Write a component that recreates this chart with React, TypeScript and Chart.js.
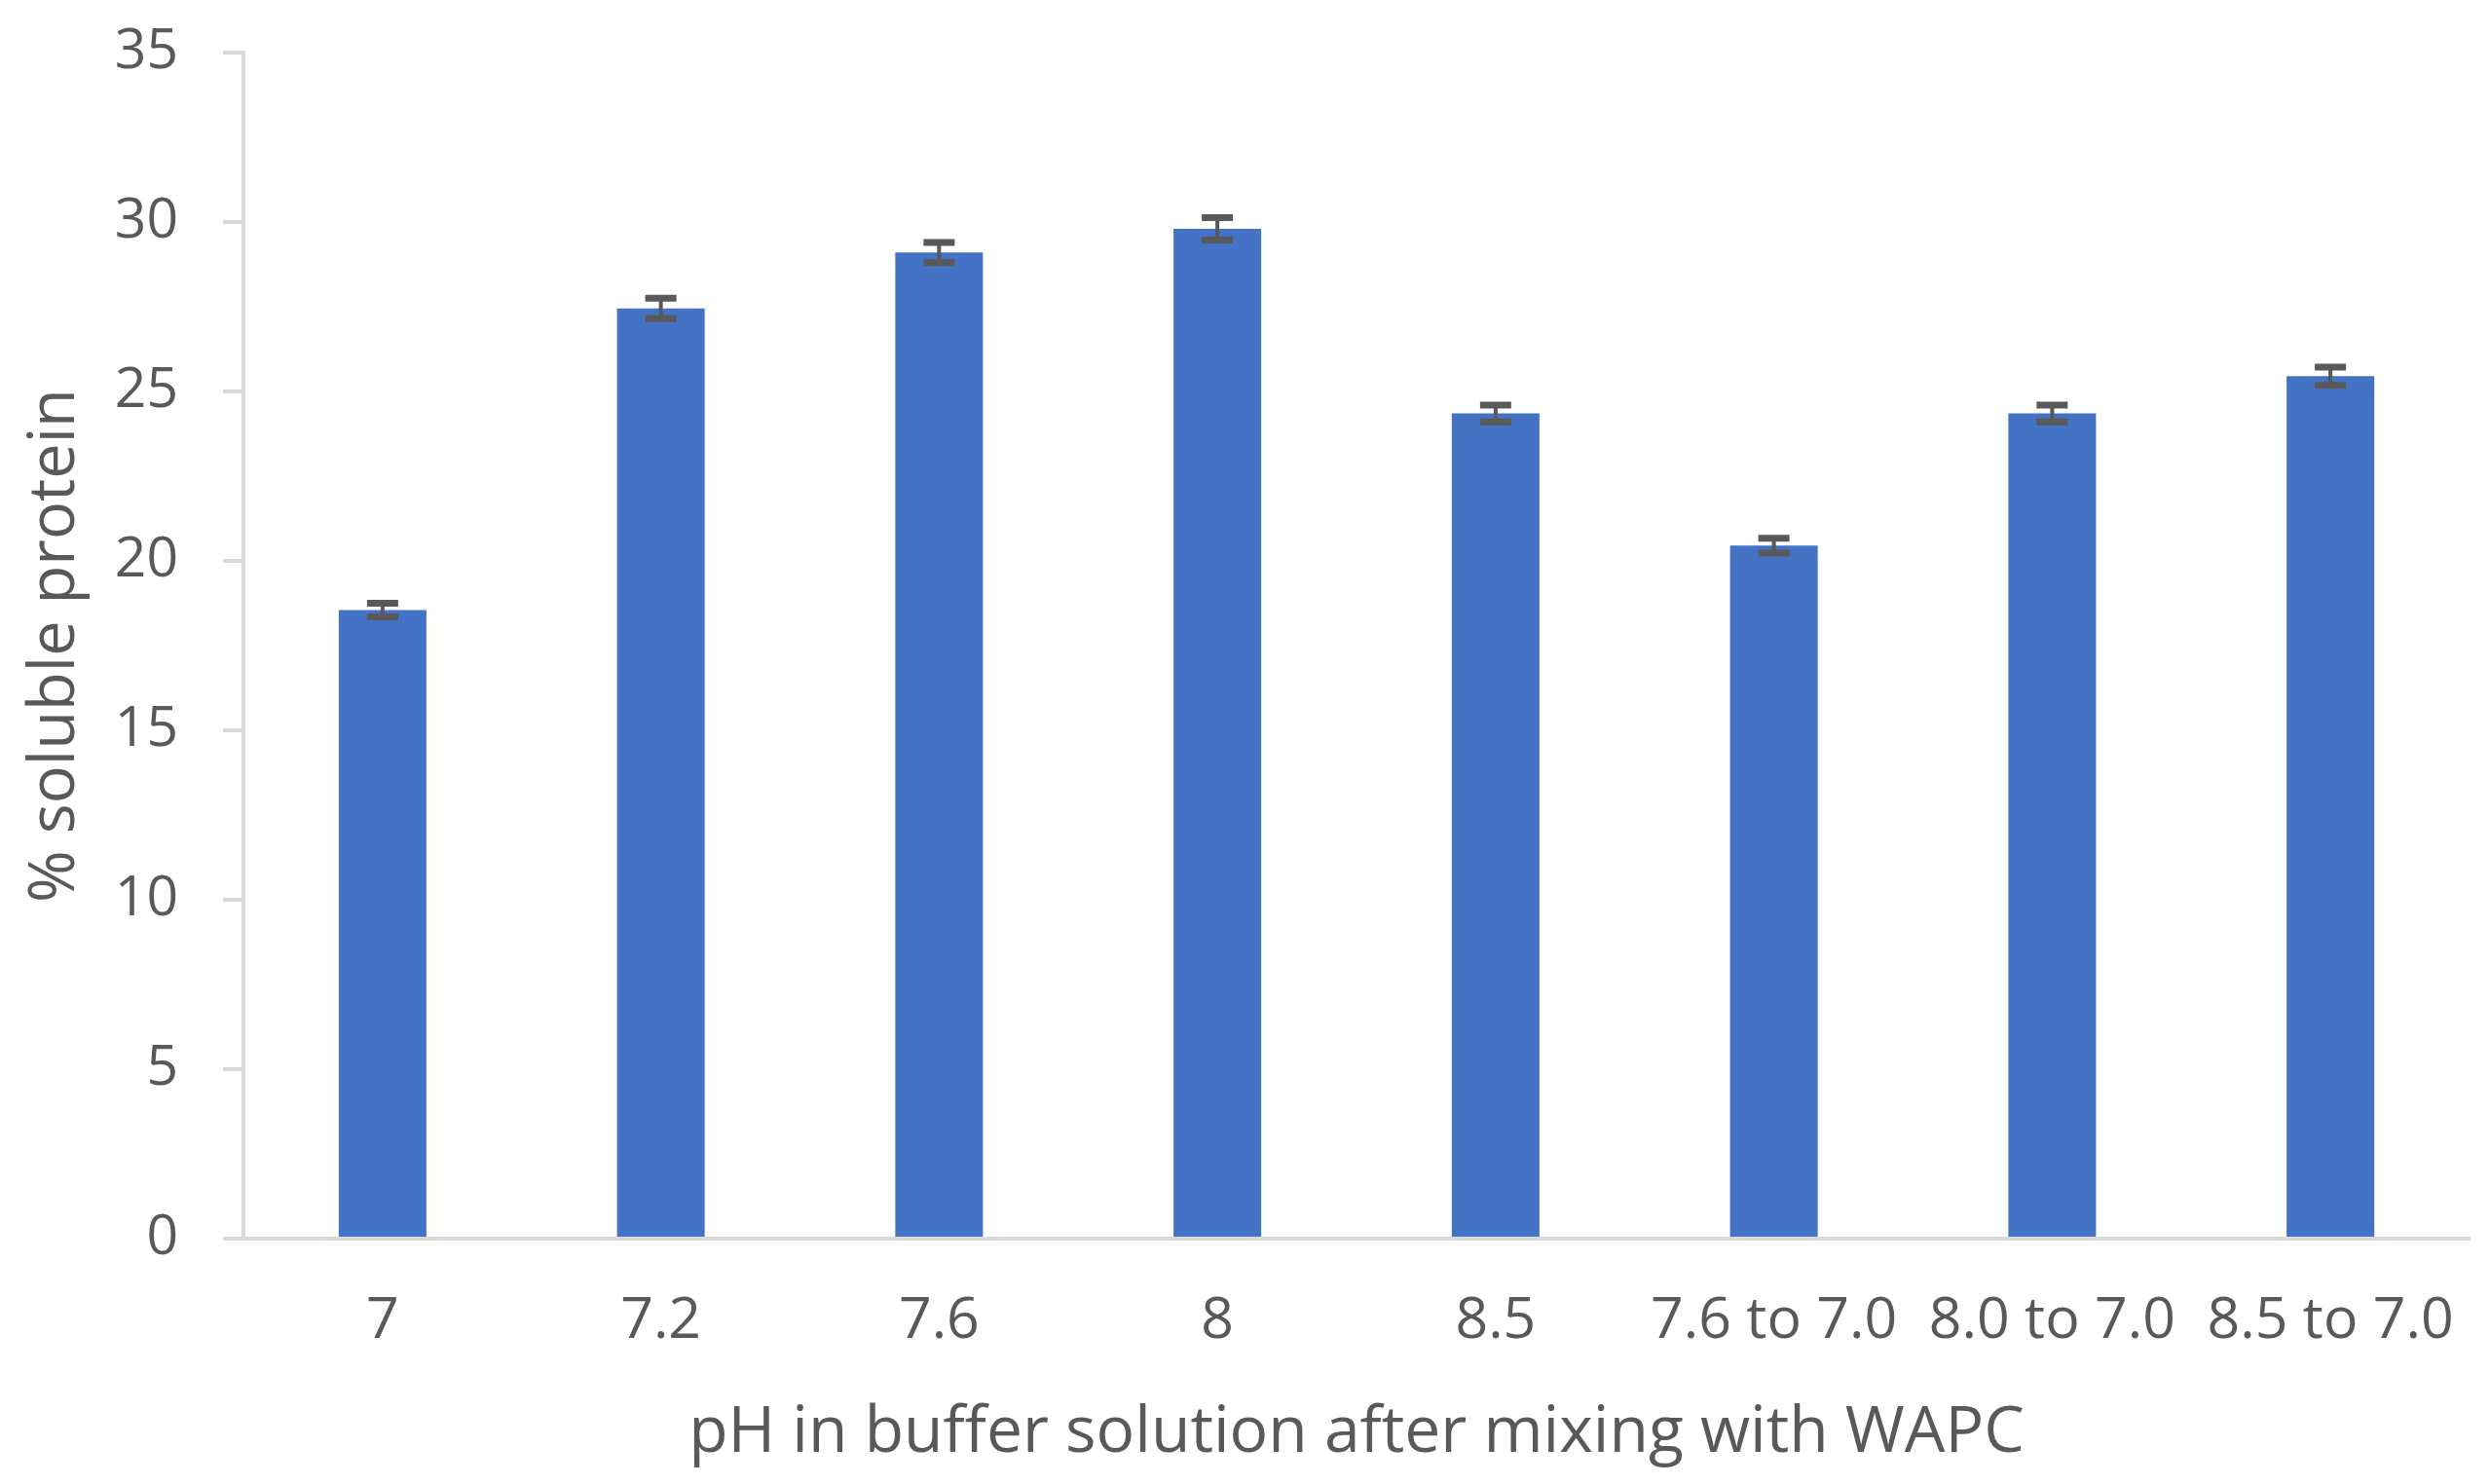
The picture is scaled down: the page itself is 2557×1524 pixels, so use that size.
import React, { useEffect, useRef } from "react";
import { Chart, registerables } from "chart.js";

Chart.register(...registerables);

const categories = ["7", "7.2", "7.6", "8", "8.5", "7.6 to 7.0", "8.0 to 7.0", "8.5 to 7.0"];
const solubleProtein = [18.55, 27.45, 29.1, 29.8, 24.35, 20.45, 24.35, 25.45];
const errorValues = [0.2, 0.3, 0.3, 0.33, 0.25, 0.22, 0.25, 0.27];
const yTicks = [0, 5, 10, 15, 20, 25, 30, 35];
const xTitle = "pH in buffer solution after mixing with WAPC";
const yTitle = "% soluble protein";

const W = 2557;
const H = 1524;
const FONT = "'Open Sans', 'Noto Sans', sans-serif";
const TEXT = "#595959";
const AXIS = "#D9D9D9";

const errorBarPlugin = {
  id: "errorBars",
  afterDatasetsDraw(chart: any) {
    const ctx = chart.ctx;
    const meta = chart.getDatasetMeta(0);
    const yScale = chart.scales.y;
    ctx.save();
    ctx.strokeStyle = "#595959";
    meta.data.forEach((bar: any, i: number) => {
      const v = solubleProtein[i];
      const e = errorValues[i];
      const x = bar.x;
      const yTop = yScale.getPixelForValue(v + e);
      const yBot = yScale.getPixelForValue(v - e);
      const half = 16;
      ctx.lineWidth = 4;
      ctx.beginPath();
      ctx.moveTo(x, yTop);
      ctx.lineTo(x, yBot);
      ctx.stroke();
      ctx.lineWidth = 7;
      ctx.beginPath();
      ctx.moveTo(x - half, yTop);
      ctx.lineTo(x + half, yTop);
      ctx.moveTo(x - half, yBot);
      ctx.lineTo(x + half, yBot);
      ctx.stroke();
    });
    ctx.restore();
  },
};

export default function App() {
  const ref = useRef<HTMLCanvasElement | null>(null);

  useEffect(() => {
    document.body.style.margin = "0";
    document.body.style.overflow = "hidden";
    const canvas = ref.current;
    if (!canvas) return;
    const chart = new Chart(canvas, {
      type: "bar",
      data: {
        labels: categories,
        datasets: [
          {
            data: solubleProtein,
            backgroundColor: "#4472C4",
            borderWidth: 0,
            barPercentage: 0.63,
            categoryPercentage: 0.5,
          },
        ],
      },
      options: {
        animation: false,
        responsive: false,
        maintainAspectRatio: false,
        devicePixelRatio: 1,
        layout: { padding: { top: 54, right: 21, left: 0, bottom: 0 } },
        plugins: {
          legend: { display: false },
          tooltip: { enabled: false },
        },
        scales: {
          x: {
            grid: { display: false, drawTicks: false },
            border: { display: true, color: AXIS, width: 4 },
            ticks: {
              color: TEXT,
              font: { family: FONT, size: 59 },
              padding: 50,
              maxRotation: 0,
              minRotation: 0,
              autoSkip: false,
            },
            title: {
              display: true,
              text: xTitle,
              color: TEXT,
              font: { family: FONT, size: 66 },
              padding: { top: 0, bottom: 12 },
            },
            afterFit(scale: any) {
              scale.height = H - 1272;
              scale.paddingLeft = 0;
              scale.paddingRight = 0;
              scale.paddingTop = 0;
              scale.paddingBottom = 0;
            },
          },
          y: {
            min: 0,
            max: 35,
            afterBuildTicks(scale: any) {
              scale.ticks = yTicks.map((v) => ({ value: v }));
            },
            grid: {
              display: true,
              drawOnChartArea: false,
              drawTicks: true,
              tickLength: 21,
              color: AXIS,
              lineWidth: 4,
            },
            border: { display: true, color: AXIS, width: 4 },
            ticks: {
              color: TEXT,
              font: { family: FONT, size: 57 },
              padding: 46,
            },
            title: {
              display: true,
              text: yTitle,
              color: TEXT,
              font: { family: FONT, size: 65 },
              padding: { top: 18, bottom: 0 },
            },
            afterFit(scale: any) {
              scale.width = 250;
              scale.paddingTop = 0;
              scale.paddingBottom = 0;
              scale.paddingLeft = 0;
              scale.paddingRight = 0;
            },
          },
        },
      },
      plugins: [errorBarPlugin],
    });
    return () => chart.destroy();
  }, []);

  return (
    <div style={{ width: W, height: H, background: "#fff" }}>
      <canvas ref={ref} width={W} height={H} style={{ display: "block", width: W, height: H }} />
    </div>
  );
}
